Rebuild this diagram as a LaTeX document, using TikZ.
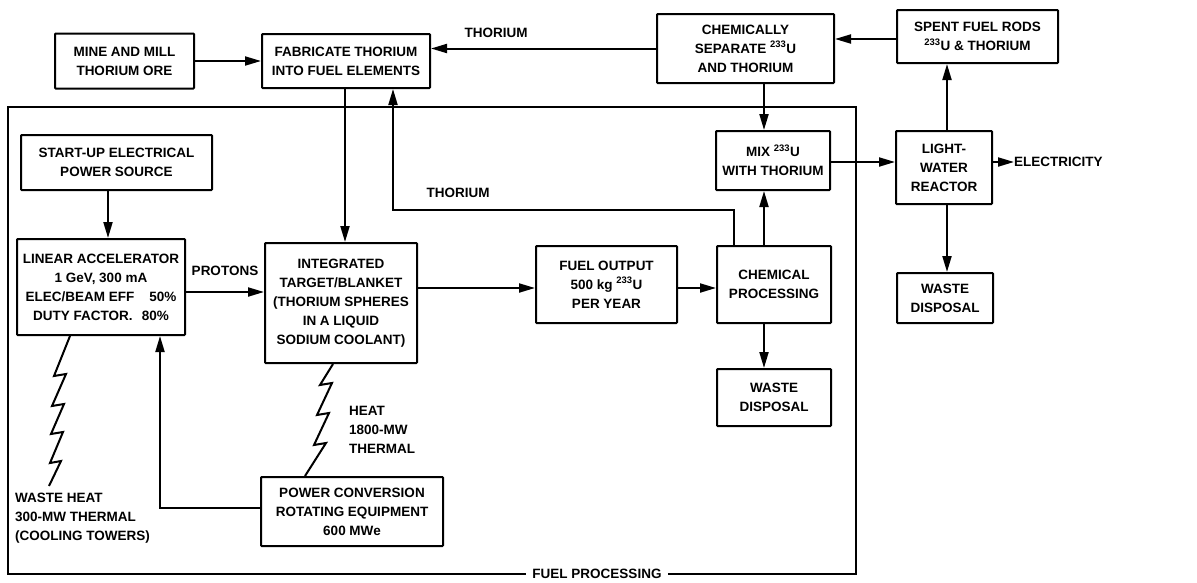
\documentclass[tikz,border=0pt]{standalone}
\usepackage{fontspec}
\setmainfont{Liberation Sans}
\usetikzlibrary{arrows.meta,calc}
\begin{document}
\begin{tikzpicture}[x=1pt,y=-1pt,
  every node/.style={font=\fontsize{13.5}{19}\selectfont\bfseries, align=center},
  box/.style={draw, line width=2pt, inner sep=0pt, rectangle, rounded corners=0.8pt},
  arr/.style={line width=2pt, -{Triangle[length=16pt,width=9pt]}},
  ln/.style={line width=2pt, line join=miter},
  lbl/.style={inner sep=0pt},
]
\useasboundingbox (0,0) rectangle (1197,582);
% frame
\draw[ln] (8,107) rectangle (856,574);
\node[lbl, fill=white, inner xsep=6pt, inner ysep=2pt] (fp) at (597,574) {FUEL PROCESSING};
% boxes
\node[box, minimum width=139pt, minimum height=55pt] (mine) at (124.5,61) {MINE AND MILL\\THORIUM ORE};
\node[box, minimum width=168pt, minimum height=54pt] (fab) at (346,61) {FABRICATE THORIUM\\INTO FUEL ELEMENTS};
\node[box, minimum width=177pt, minimum height=69pt] (chemsep) at (745.5,48.5) {CHEMICALLY\\SEPARATE \textsuperscript{233}U\\AND THORIUM};
\node[box, minimum width=161pt, minimum height=53pt] (spent) at (977.5,36.5) {SPENT FUEL RODS\\\textsuperscript{233}U \& THORIUM};
\node[box, minimum width=114pt, minimum height=59pt] (mix) at (773,160.5) {MIX \textsuperscript{233}U\\WITH THORIUM};
\node[box, minimum width=96pt, minimum height=73pt] (lwr) at (944,167.5) {LIGHT-\\WATER\\REACTOR};
\node[box, minimum width=96pt, minimum height=50pt] (wdr) at (945,298) {WASTE\\DISPOSAL};
\node[box, minimum width=114pt, minimum height=77pt] (chemproc) at (774,284.5) {CHEMICAL\\PROCESSING};
\node[box, minimum width=114pt, minimum height=57pt] (wdc) at (774,397.5) {WASTE\\DISPOSAL};
\node[box, minimum width=141pt, minimum height=77pt] (fuel) at (606.5,284.5) {FUEL OUTPUT\\500 kg \textsuperscript{233}U\\PER YEAR};
\node[box, minimum width=152pt, minimum height=120pt] (integ) at (341,303) {INTEGRATED\\TARGET/BLANKET\\(THORIUM SPHERES\\IN A LIQUID\\SODIUM COOLANT)};
\node[box, minimum width=168pt, minimum height=96pt] (linac) at (101,287) {LINEAR ACCELERATOR\\1 GeV, 300 mA\\ELEC/BEAM EFF\hspace{1.1em}50\%\\DUTY FACTOR.\hspace{0.7em}80\%};
\node[box, minimum width=191pt, minimum height=55pt] (startup) at (116.5,162.5) {START-UP ELECTRICAL\\POWER SOURCE};
\node[box, minimum width=182pt, minimum height=69pt] (power) at (352,511.5) {POWER CONVERSION\\ROTATING EQUIPMENT\\600 MWe};
% labels
\node[lbl] (thtop) at (496,33) {THORIUM};
\node[lbl] (thmid) at (458,193) {THORIUM};
\node[lbl] (prot) at (225,271) {PROTONS};
\node[lbl, anchor=west, align=left] (heat) at (349,430) {HEAT\\1800-MW\\THERMAL};
\node[lbl, anchor=west, align=left] (waste) at (15,518) {WASTE HEAT\\300-MW THERMAL\\(COOLING TOWERS)};
\node[lbl, anchor=west] (elec) at (1014,162) {ELECTRICITY};
% helper coordinates
\coordinate (c39) at (0,39);
\coordinate (c764) at (764,0);
\coordinate (c162) at (0,162);
\coordinate (c947) at (947,0);
\coordinate (c345) at (345,0);
\coordinate (c108) at (108,0);
\coordinate (c292) at (0,292);
\coordinate (c288) at (0,288);
\coordinate (t1) at (734,210);
\coordinate (t2) at (393,210);
\coordinate (p1) at (160,508);
\coordinate (z1) at (70,0);
\coordinate (z2) at (333,0);
% connectors
\draw[arr] (mine.east) -- (fab.west);
\draw[arr] (chemsep.west) -- (chemsep.west -| fab.east);
\draw[arr] (spent.west |- c39) -- (chemsep.east |- c39);
\draw[arr] (chemsep.south -| c764) -- (mix.north -| c764);
\draw[arr] (mix.east |- c162) -- (lwr.west |- c162);
\draw[arr] (lwr.north -| c947) -- (spent.south -| c947);
\draw[arr] (lwr.south -| c947) -- (wdr.north -| c947);
\draw[arr] (lwr.east |- c162) -- (elec.west);
\draw[arr] (chemproc.north -| c764) -- (mix.south -| c764);
\draw[arr] (chemproc.south -| c764) -- (wdc.north -| c764);
\draw[arr] (chemproc.north -| t1) -- (t1) -- (t2) -- (fab.south -| t2);
\draw[arr] (fab.south -| c345) -- (integ.north -| c345);
\draw[arr] (startup.south -| c108) -- (linac.north -| c108);
\draw[arr] (linac.east |- c292) -- (integ.west |- c292);
\draw[arr] (integ.east |- c288) -- (fuel.west |- c288);
\draw[arr] (fuel.east |- c288) -- (chemproc.west |- c288);
\draw[arr] (power.west |- p1) -- (p1) -- (linac.south -| p1);
% zigzags
\draw[ln] (linac.south -| z1) -- ++(-16,40) -- ++(12,-2) -- ++(-14,32) -- ++(12,-2) -- ++(-13,30) -- ++(12,-2) -- ++(-13,31) -- ++(11,-2) -- ++(-12,25);
\draw[ln] (integ.south -| z2) -- ++(-13,21) -- ++(12,-2) -- ++(-15,32) -- ++(12,-2) -- ++(-15,32) -- ++(12,-2) -- (power.north -| 305,0);
\end{tikzpicture}
\end{document}
